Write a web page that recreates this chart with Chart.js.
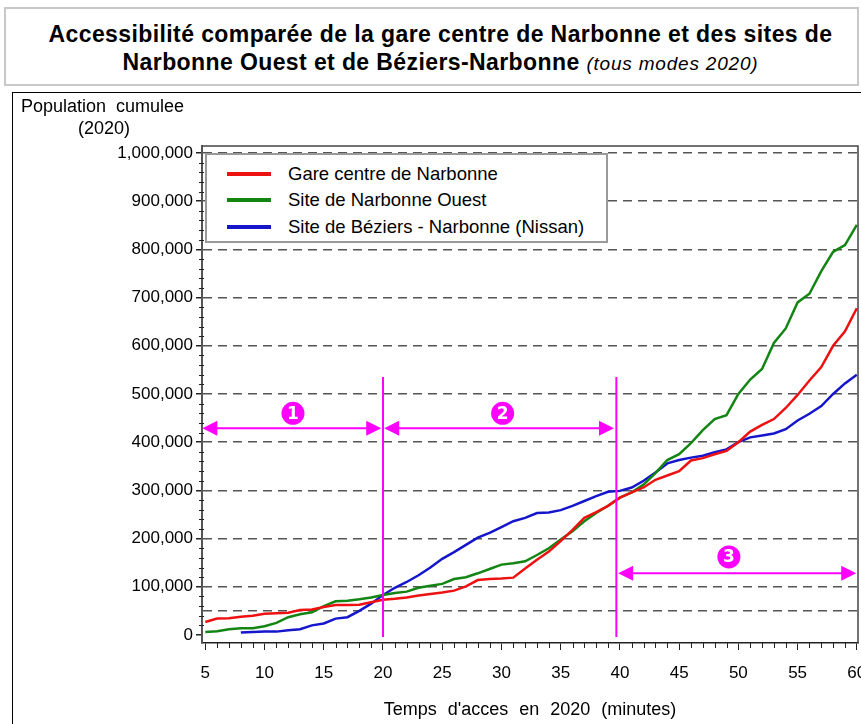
<!DOCTYPE html>
<html lang="fr">
<head>
<meta charset="utf-8">
<title>Accessibilité comparée - Narbonne</title>
<script src="https://cdn.jsdelivr.net/npm/chart.js@4.4.1/dist/chart.umd.min.js"></script>
<style>
  html, body { margin: 0; padding: 0; background: #fff; }
  body { position: relative; width: 861px; height: 724px; overflow: hidden; font-family: "Liberation Sans", Arial, sans-serif; color: #000; }
  #titre { position: absolute; left: 4px; top: 7px; width: 851px; height: 75px; border: 2px solid #c8c8c8; }
  #titre div { position: absolute; left: 18px; right: 0; text-align: center; font-weight: bold; font-size: 23px; letter-spacing: 0.4px; white-space: nowrap; }
  #titre .sous { font-weight: normal; font-style: italic; font-size: 19px; letter-spacing: 0.8px; }
  #cadre { position: absolute; left: 12px; top: 92px; width: 900px; height: 700px; border: 1px solid #000; }
  #graph { position: absolute; left: 0; top: 0; }
  .ycap { position: absolute; font-size: 18px; word-spacing: 5px; white-space: nowrap; }
  #legende { position: absolute; left: 205px; top: 153px; width: 399px; height: 86px; border: 2px solid #9a9a9a; background: #fff; }
  #legende .ligne { position: absolute; left: 0; height: 24px; display: flex; align-items: center; font-size: 18.5px; white-space: nowrap; }
  #legende .trait { display: inline-block; width: 44px; height: 4px; margin-left: 20px; margin-right: 17px; }
</style>
</head>
<body>
<div id="titre">
  <div style="top:12px">Accessibilité comparée de la gare centre de Narbonne et des sites de</div>
  <div style="top:40px">Narbonne Ouest et de Béziers-Narbonne <span class="sous">(tous modes 2020)</span></div>
</div>
<div id="cadre"></div>
<canvas id="graph" width="861" height="724"></canvas>
<div class="ycap" style="left:21px; top:96px">Population cumulee</div>
<div class="ycap" style="left:78px; top:118px">(2020)</div>
<div id="legende"></div>

<script>
// temps d'accès (minutes)
const minutes = [5, 6, 7, 8, 9, 10, 11, 12, 13, 14, 15, 16, 17, 18, 19, 20,
  21, 22, 23, 24, 25, 26, 27, 28, 29, 30, 31, 32, 33, 34, 35, 36, 37, 38, 39, 40,
  41, 42, 43, 44, 45, 46, 47, 48, 49, 50, 51, 52, 53, 54, 55, 56, 57, 58, 59, 60];

// population cumulée atteinte
const gareCentre = [27000, 34000, 35000, 38000, 40000, 44000, 45000, 46000, 52000, 53000,
  58000, 62000, 62000, 63000, 68000, 73000,
  75000, 78000, 82000, 85000, 88000, 92000, 101000, 114000, 116000, 117000,
  119000, 138000, 156000, 173000, 195000, 218000, 243000, 255000, 268000, 285000,
  296000, 306000, 322000, 331000, 340000, 362000, 367000, 375000, 382000, 400000,
  422000, 436000, 448000, 471000, 498000, 528000, 556000, 600000, 630000, 678000];

const narbonneOuest = [6000, 8000, 12000, 14000, 14000, 18000, 25000, 37000, 43000, 47000,
  60000, 70000, 71000, 74000, 78000, 83000,
  87000, 90000, 98000, 102000, 106000, 116000, 120000, 128000, 137000, 146000,
  149000, 153000, 166000, 180000, 198000, 215000, 236000, 253000, 268000, 285000,
  296000, 312000, 336000, 363000, 375000, 398000, 425000, 448000, 456000, 500000,
  530000, 552000, 606000, 636000, 690000, 708000, 755000, 795000, 809000, 851000];

const beziersNarbonne = [null, null, null, 5000, 6000, 7000, 7000, 10000, 12000, 20000,
  24000, 34000, 37000, 50000, 65000, 83000,
  98000, 110000, 124000, 140000, 158000, 172000, 187000, 202000, 212000, 224000,
  236000, 243000, 253000, 254000, 259000, 268000, 278000, 288000, 297000, 299000,
  306000, 320000, 337000, 356000, 363000, 368000, 372000, 379000, 385000, 400000,
  410000, 414000, 418000, 427000, 445000, 459000, 475000, 500000, 522000, 540000];

const seriesNames = ['Gare centre de Narbonne', 'Site de Narbonne Ouest', 'Site de Béziers - Narbonne (Nissan)'];
const xTicks = [5, 10, 15, 20, 25, 30, 35, 40, 45, 50, 55, 60];
const yTicks = [0, 50000, 100000, 200000, 300000, 400000, 500000, 600000, 700000, 800000, 900000, 1000000];

// les trois tranches de temps : limites, flèches et numéros
const zoneLimits = [20, 39.7];
const zoneLimitTop = 535000;
const zoneLimitBottom = -4000;
const zoneFrom = [4.75, 20.1, 39.85];
const zoneTo = [19.85, 39.5, 59.95];
const zoneY = [429000, 429000, 128000];
const zoneNum = ['1', '2', '3'];
const zoneNumX = [12.4, 30.1, 49.2];
const zoneNumY = [460000, 460000, 162000];

const MAGENTA = '#ff00ff';
const colors = ['#ee1111', '#138513', '#1515cc'];

const toPoints = arr => minutes.map((m, i) => ({ x: m, y: arr[i] }));

// cadre, graduations secondaires et tranches
const extras = {
  id: 'extras',
  beforeDraw(chart) {
    // titre de l'axe des x un peu aéré
    chart.ctx.wordSpacing = '6px';
  },
  afterDraw(chart) {
    const { ctx, chartArea: a, scales: { x, y } } = chart;
    ctx.save();
    ctx.strokeStyle = '#444';
    ctx.lineWidth = 1.5;
    ctx.beginPath();
    ctx.moveTo(a.left, a.top); ctx.lineTo(a.right, a.top); ctx.lineTo(a.right, a.bottom);
    ctx.stroke();

    ctx.strokeStyle = '#222';
    ctx.lineWidth = 1;
    ctx.beginPath();
    for (let m = 5; m <= 60; m++) {
      if (m % 5 === 0) continue;
      const px = Math.round(x.getPixelForValue(m)) + 0.5;
      ctx.moveTo(px, a.bottom); ctx.lineTo(px, a.bottom + 5);
    }
    for (let v = 20000; v < 1000000; v += 20000) {
      if (v % 100000 === 0) continue;
      const py = Math.round(y.getPixelForValue(v)) + 0.5;
      ctx.moveTo(a.left - 3, py); ctx.lineTo(a.left + 2, py);
    }
    ctx.stroke();
    ctx.restore();
  },
  afterDatasetsDraw(chart) {
    const { ctx, scales: { x, y } } = chart;
    ctx.save();
    ctx.strokeStyle = MAGENTA;
    ctx.fillStyle = MAGENTA;
    ctx.lineWidth = 2;
    zoneLimits.forEach(v => {
      const px = x.getPixelForValue(v);
      ctx.beginPath();
      ctx.moveTo(px, y.getPixelForValue(zoneLimitTop));
      ctx.lineTo(px, y.getPixelForValue(zoneLimitBottom));
      ctx.stroke();
    });
    zoneFrom.forEach((f, i) => {
      const x1 = x.getPixelForValue(f), x2 = x.getPixelForValue(zoneTo[i]);
      const py = y.getPixelForValue(zoneY[i]);
      ctx.beginPath();
      ctx.moveTo(x1 + 10, py); ctx.lineTo(x2 - 10, py);
      ctx.stroke();
      ctx.beginPath();
      ctx.moveTo(x1, py); ctx.lineTo(x1 + 15, py - 7.5); ctx.lineTo(x1 + 15, py + 7.5); ctx.closePath();
      ctx.moveTo(x2, py); ctx.lineTo(x2 - 15, py - 7.5); ctx.lineTo(x2 - 15, py + 7.5); ctx.closePath();
      ctx.fill();

      const cx = x.getPixelForValue(zoneNumX[i]), cy = y.getPixelForValue(zoneNumY[i]);
      ctx.fillStyle = MAGENTA;
      ctx.beginPath();
      ctx.arc(cx, cy, 11.5, 0, Math.PI * 2);
      ctx.fill();
      ctx.fillStyle = '#fff';
      ctx.font = 'bold 17px "DejaVu Sans", sans-serif';
      ctx.textAlign = 'center';
      ctx.textBaseline = 'middle';
      ctx.fillText(zoneNum[i], cx, cy + 1);
      ctx.fillStyle = MAGENTA;
    });
    ctx.restore();
  }
};

const fixBox = (w, h) => function (scale) {
  if (w !== null) scale.width = w;
  if (h !== null) scale.height = h;
  scale.paddingTop = scale.paddingBottom = scale.paddingLeft = scale.paddingRight = 0;
};

Chart.defaults.font.family = '"Liberation Sans", Arial, sans-serif';
Chart.defaults.color = '#000';

const chart = new Chart(document.getElementById('graph'), {
  type: 'line',
  data: {
    datasets: [gareCentre, narbonneOuest, beziersNarbonne].map((arr, i) => ({
      label: seriesNames[i],
      data: toPoints(arr),
      borderColor: colors[i],
      backgroundColor: colors[i],
      borderWidth: 2.5,
      pointRadius: 0,
      tension: 0,
      spanGaps: false
    }))
  },
  options: {
    responsive: false,
    animation: false,
    layout: { padding: { left: 0, top: 146, right: 3, bottom: 0 } },
    plugins: { legend: { display: false }, tooltip: { enabled: false } },
    scales: {
      x: {
        type: 'linear',
        min: 4.72,
        max: 60.1,
        afterBuildTicks: s => { s.ticks = xTicks.map(v => ({ value: v })); },
        afterFit: fixBox(null, 81),
        ticks: { font: { size: 17 }, padding: 13, maxRotation: 0, autoSkip: false, callback: v => String(v) },
        grid: { drawOnChartArea: false, tickLength: 7, color: '#222' },
        border: { color: '#222', width: 1.5 },
        title: {
          display: true,
          text: "Temps d'acces en 2020 (minutes)",
          font: { size: 18 },
          padding: { top: 0, bottom: 3 }
        }
      },
      y: {
        type: 'linear',
        min: -16600,
        max: 1014500,
        afterBuildTicks: s => { s.ticks = yTicks.map(v => ({ value: v })); },
        afterFit: fixBox(202, null),
        ticks: {
          font: { size: 17 },
          padding: 3,
          autoSkip: false,
          callback: v => (v % 100000 === 0 ? v.toLocaleString('en-US') : '')
        },
        grid: {
          tickLength: 6,
          lineWidth: 1.5,
          color: c => (c.tick && c.tick.value === 0 ? 'rgba(0,0,0,0)' : '#555'),
          tickColor: c => (c.tick && c.tick.value === 50000 ? 'rgba(0,0,0,0)' : '#222'),
          tickBorderDash: []
        },
        border: { color: '#555', width: 2, dash: [9, 6] }
      }
    }
  },
  plugins: [extras]
});

// légende encadrée, construite à partir des séries
const legend = document.getElementById('legende');
const rowTops = [7, 33, 60];
chart.data.datasets.forEach((ds, i) => {
  const row = document.createElement('div');
  row.className = 'ligne';
  row.style.top = rowTops[i] + 'px';
  const line = document.createElement('span');
  line.className = 'trait';
  line.style.background = ds.borderColor;
  const txt = document.createElement('span');
  txt.textContent = ds.label;
  row.appendChild(line);
  row.appendChild(txt);
  legend.appendChild(row);
});
</script>
</body>
</html>
